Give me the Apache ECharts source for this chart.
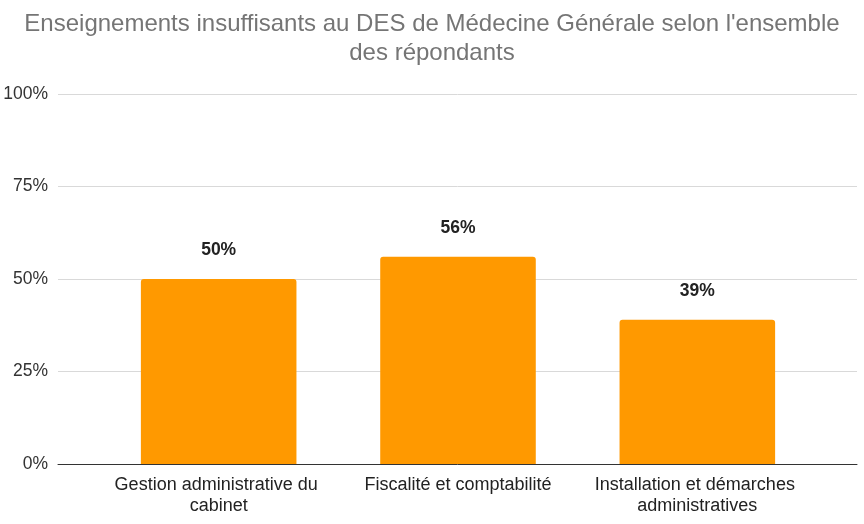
<!DOCTYPE html>
<html>
<head>
<meta charset="utf-8">
<script src="https://cdn.jsdelivr.net/npm/echarts@6/dist/echarts.min.js"></script>
<style>
  html, body { margin: 0; padding: 0; background: #fff; }
  #chart { width: 864px; height: 524px; }
</style>
</head>
<body>
<div id="chart"></div>
<script>
const categories = ['Gestion administrative du cabinet', 'Fiscalité et comptabilité', 'Installation et démarches administratives'];
const values = [50, 56, 39];
const yTicks = [0, 25, 50, 75, 100];

const chart = echarts.init(document.getElementById('chart'));
const font = 'Arial, "Liberation Sans", sans-serif';

chart.setOption({
  animation: false,
  title: {
    text: "Enseignements insuffisants au DES de Médecine Générale selon l'ensemble\ndes répondants",
    left: 'center',
    top: 5,
    textStyle: { fontFamily: font, fontSize: 24, fontWeight: 'normal', color: '#757575', lineHeight: 29 }
  },
  grid: [
    // bars
    { left: 99, right: 47, top: 94, bottom: 60 },
    // background: gridlines + baseline spanning wider
    { left: 58, right: 7, top: 94, bottom: 60 }
  ],
  xAxis: [
    {
      type: 'category', gridIndex: 0, data: categories,
      axisLine: { show: false }, axisTick: { show: false },
      axisLabel: {
        fontFamily: font, fontSize: 18, color: '#222', margin: 11, lineHeight: 21,
        width: 225, overflow: 'break', interval: 0
      }
    },
    {
      type: 'value', gridIndex: 1, min: 0, max: 1, show: true,
      axisLine: { show: true, lineStyle: { color: '#333', width: 1 } },
      axisTick: { show: false }, axisLabel: { show: false }, splitLine: { show: false }
    }
  ],
  yAxis: [
    {
      type: 'value', gridIndex: 0, min: yTicks[0], max: yTicks[yTicks.length - 1], interval: 25,
      show: false
    },
    {
      type: 'value', gridIndex: 1, min: yTicks[0], max: yTicks[yTicks.length - 1], interval: 25,
      axisLine: { show: false }, axisTick: { show: false },
      axisLabel: { fontFamily: font, fontSize: 17.5, color: '#333', margin: 10, formatter: '{value}%' },
      splitLine: { lineStyle: { color: '#d9d9d9', width: 1 } }
    }
  ],
  series: [{
    type: 'bar', xAxisIndex: 0, yAxisIndex: 0,
    data: values,
    barWidth: '65%',
    itemStyle: { color: '#ff9900', borderRadius: [3, 3, 0, 0] },
    label: {
      show: true, position: 'top', distance: 20,
      formatter: '{c}%',
      fontFamily: font, fontSize: 17.5, fontWeight: 'bold', color: '#222'
    },
    z: 3
  }]
});
</script>
</body>
</html>
